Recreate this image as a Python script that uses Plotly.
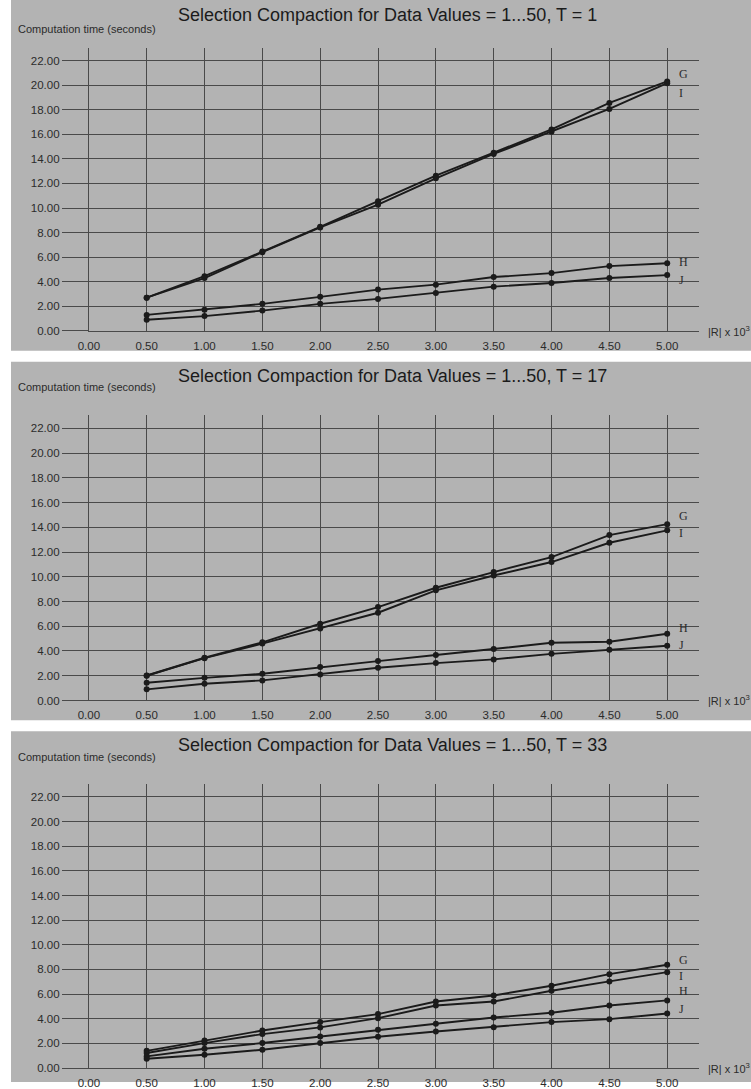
import plotly.graph_objects as go

# ---------------- data ----------------
x_vals = [0.5, 1.0, 1.5, 2.0, 2.5, 3.0, 3.5, 4.0, 4.5, 5.0]
x_ticks = [0.0, 0.5, 1.0, 1.5, 2.0, 2.5, 3.0, 3.5, 4.0, 4.5, 5.0]
y_ticks = [0, 2, 4, 6, 8, 10, 12, 14, 16, 18, 20, 22]
series_names = ["G", "I", "H", "J"]
titles = [
    "Selection Compaction for Data Values = 1...50, T = 1",
    "Selection Compaction for Data Values = 1...50, T = 17",
    "Selection Compaction for Data Values = 1...50, T = 33",
]
y_label = "Computation time (seconds)"
x_label = "|R| x 10<sup>3</sup>"

t1_G = [2.70, 4.45, 6.45, 8.47, 10.56, 12.63, 14.50, 16.40, 18.55, 20.30]
t1_I = [2.70, 4.30, 6.40, 8.42, 10.27, 12.42, 14.40, 16.20, 18.06, 20.16]
t1_H = [1.30, 1.72, 2.20, 2.77, 3.36, 3.76, 4.38, 4.70, 5.27, 5.50]
t1_J = [0.90, 1.20, 1.65, 2.20, 2.60, 3.09, 3.60, 3.90, 4.30, 4.54]

t17_G = [2.02, 3.45, 4.70, 6.20, 7.55, 9.11, 10.38, 11.59, 13.37, 14.25]
t17_I = [2.00, 3.42, 4.60, 5.82, 7.09, 8.90, 10.10, 11.19, 12.75, 13.75]
t17_H = [1.43, 1.83, 2.16, 2.70, 3.18, 3.67, 4.15, 4.66, 4.75, 5.39]
t17_J = [0.90, 1.35, 1.62, 2.10, 2.64, 3.02, 3.32, 3.77, 4.10, 4.42]

t33_G = [1.40, 2.24, 3.05, 3.73, 4.38, 5.40, 5.89, 6.68, 7.62, 8.38]
t33_I = [1.22, 2.03, 2.76, 3.30, 4.05, 5.08, 5.40, 6.27, 7.03, 7.78]
t33_H = [0.95, 1.57, 2.03, 2.57, 3.11, 3.60, 4.10, 4.49, 5.08, 5.49]
t33_J = [0.76, 1.08, 1.49, 2.03, 2.54, 2.97, 3.32, 3.73, 3.97, 4.43]

panels = [
    [t1_G, t1_I, t1_H, t1_J],
    [t17_G, t17_I, t17_H, t17_J],
    [t33_G, t33_I, t33_H, t33_J],
]

# ---------------- layout (pixels) ----------------
W, H = 751, 1089
BG = "#b3b3b3"
GRID = "#4a4a4a"
INK = "#1b1b1b"
TXT = "#2b2b2b"

panel_box = [(0, 353), (364, 725), (736, 1089)]      # gray panel top/bottom
plot_top = [48, 418, 789]                             # top of plot area
plot_bot = [333, 705, 1075]                           # y = 0 line
title_y = [15, 378, 750]
ylab_y = [29, 390, 762]
x_left, x_right = 79, 698
y_max = 23.05
x_max = 5.273
label_shift = [
    [7, -10, 1, -5],
    [8, -3, 6, 1],
    [5, -4, 9, 4],
]

def py(p):
    return 1 - p / H

fig = go.Figure()
shapes = []
annotations = []

for i, data in enumerate(panels):
    xa = "x" if i == 0 else f"x{i+1}"
    ya = "y" if i == 0 else f"y{i+1}"
    for name, vals in zip(series_names, data):
        fig.add_trace(go.Scatter(
            x=x_vals, y=vals, mode="lines+markers", name=name,
            xaxis=xa, yaxis=ya, showlegend=False,
            line=dict(color=INK, width=1.9),
            marker=dict(color=INK, size=6),
        ))
    for j, (name, vals) in enumerate(zip(series_names, data)):
        annotations.append(dict(
            x=x_vals[-1], y=vals[-1], xref=xa, yref=ya,
            text=name, showarrow=False, xanchor="left", yanchor="middle",
            xshift=10, yshift=label_shift[i][j],
            font=dict(family="Liberation Serif", size=12, color=TXT),
        ))
    suffix = "" if i == 0 else str(i + 1)
    common_x = dict(
        domain=[x_left / W, x_right / W], range=[0, x_max],
        tickvals=x_ticks, tickformat=".2f",
        showgrid=True, gridcolor=GRID, gridwidth=1,
        showline=True, linecolor=GRID, linewidth=1,
        zeroline=False, ticks="outside", ticklen=4,
        tickcolor="rgba(0,0,0,0)",
        tickfont=dict(family="Liberation Sans", size=11.5, color=TXT),
        anchor=ya, fixedrange=True,
    )
    common_y = dict(
        domain=[py(plot_bot[i]), py(plot_top[i])], range=[0, y_max],
        tickvals=y_ticks, tickformat=".2f",
        showgrid=True, gridcolor=GRID, gridwidth=1,
        showline=True, linecolor=GRID, linewidth=1,
        zeroline=False, ticks="outside", ticklen=26, tickwidth=1,
        tickcolor=GRID,
        tickfont=dict(family="Liberation Sans", size=11.5, color=TXT),
        anchor=xa, fixedrange=True,
    )
    fig.update_layout(**{f"xaxis{suffix}": common_x, f"yaxis{suffix}": common_y})

    top, bot = panel_box[i]
    shapes.append(dict(type="rect", xref="paper", yref="paper",
                       x0=0, x1=1, y0=py(bot), y1=py(top),
                       fillcolor=BG, line=dict(width=0), layer="below"))
    annotations.append(dict(
        x=167 / W, y=py(title_y[i]), xref="paper", yref="paper",
        text=titles[i], showarrow=False, xanchor="left", yanchor="middle",
        font=dict(family="Liberation Sans", size=18, color=INK),
    ))
    annotations.append(dict(
        x=5 / W, y=py(ylab_y[i]), xref="paper", yref="paper",
        text=y_label, showarrow=False, xanchor="left", yanchor="middle",
        font=dict(family="Liberation Sans", size=11, color=TXT),
    ))
    annotations.append(dict(
        x=705 / W, y=0, xref="paper", yref=ya,
        text=x_label, showarrow=False, xanchor="left", yanchor="middle",
        font=dict(family="Liberation Sans", size=11, color=TXT),
    ))

fig.update_layout(
    width=W, height=H,
    margin=dict(l=0, r=0, t=0, b=0),
    paper_bgcolor="white", plot_bgcolor=BG,
    shapes=shapes, annotations=annotations,
    showlegend=False,
)

fig.write_html(
    "out.html",
    config={"displayModeBar": False},
    post_script="document.body.style.margin='0px';document.body.style.overflow='hidden';",
)
